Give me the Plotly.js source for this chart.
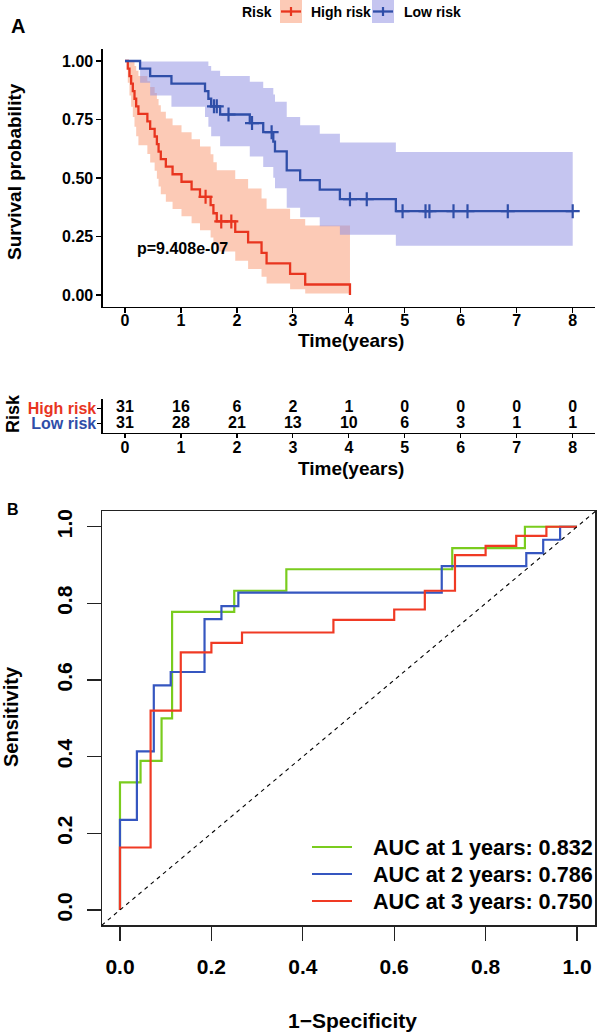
<!DOCTYPE html>
<html><head><meta charset="utf-8">
<script src="https://cdn.plot.ly/plotly-3.0.1.min.js"></script>
<style>html,body{margin:0;padding:0;background:#fff;}#chart{width:597px;height:1033px;}</style>
</head><body><div id="chart"></div>
<script>
// ---------------- DATA ----------------
const groupNames = ['High risk', 'Low risk'];
const groupSize = [31, 31];
const highEventTimes = [0.05,0.08,0.11,0.14,0.17,0.20,0.24,0.40,0.45,0.53,0.57,0.60,0.64,0.73,0.85,
  1.01,1.19,1.34,1.53,1.58,1.64,1.97,2.20,2.44,2.53,2.95,3.22,4.02];
const highCensorTimes = [1.44,1.72,1.90];
const lowEventTimes = [0.27,0.45,0.83,1.43,1.49,1.54,1.70,2.23,2.47,2.65,2.68,2.89,2.89,3.13,3.48,3.84,4.84];
const lowCensorTimes = [1.59,1.64,1.85,2.27,2.62,4.02,4.32,4.96,5.37,5.44,5.87,6.12,6.84,8.00];
const pValueText = 'p=9.408e-07';
const timeTicks = [0,1,2,3,4,5,6,7,8];
const survTicks = [0,0.25,0.5,0.75,1];
const survTickText = ['0.00','0.25','0.50','0.75','1.00'];
const riskTimes = [0,1,2,3,4,5,6,7,8];
const highAtRisk = [31,16,6,2,1,0,0,0,0];
const lowAtRisk = [31,28,21,13,10,6,3,1,1];

const rocTicks = [0,0.2,0.4,0.6,0.8,1.0];
const rocTickText = ['0.0','0.2','0.4','0.6','0.8','1.0'];
const roc1FPR = [0,0,0.045,0.091,0.114,0.25,0.364,0.727,0.886,1];
const roc1TPR = [0,0.333,0.389,0.5,0.778,0.833,0.889,0.944,1,1];
const roc2FPR = [0,0,0.037,0.074,0.111,0.185,0.222,0.259,0.704,0.889,0.926,0.963,1];
const roc2TPR = [0,0.235,0.414,0.586,0.621,0.759,0.793,0.828,0.897,0.931,0.966,1,1];
const roc3FPR = [0,0,0.067,0.133,0.2,0.267,0.467,0.6,0.667,0.733,0.8,0.867,0.933,1];
const roc3TPR = [0,0.163,0.52,0.672,0.697,0.724,0.757,0.784,0.833,0.926,0.95,0.976,1,1];
const aucLabels = ['AUC at 1 years: 0.832','AUC at 2 years: 0.786','AUC at 3 years: 0.750'];

// ---------------- STYLE ----------------
const W = 597, H = 1033;
const FONT = 'Liberation Sans, Arial, Helvetica, sans-serif';
const RED = '#E8351F', BLUE = '#2F4EA8';
const RED_FILL = 'rgba(250,150,110,0.5)', BLUE_FILL = 'rgba(140,140,225,0.5)';
const ROC_COL = ['#7ACC1E', '#3556C0', '#F03A24'];
const px = x => x / W, py = y => 1 - y / H;

// Kaplan-Meier with log-type confidence interval (survfit default)
function km(events, censors, n) {
  const all = events.map(t => ({t, e: 1})).concat(censors.map(t => ({t, e: 0})))
    .sort((a, b) => a.t - b.t || b.e - a.e);
  let risk = n, S = 1, v = 0, i = 0;
  const times = [0], surv = [1], up = [1], lo = [1], cens = [];
  while (i < all.length) {
    const t = all[i].t; let d = 0, c = 0;
    while (i < all.length && all[i].t === t) { if (all[i].e) d++; else c++; i++; }
    if (d > 0) {
      S *= (risk - d) / risk;
      if (risk - d > 0) v += d / (risk * (risk - d));
      const se = Math.sqrt(v);
      times.push(t); surv.push(S);
      if (S > 0) { up.push(Math.min(1, S * Math.exp(1.96 * se))); lo.push(S * Math.exp(-1.96 * se)); }
      else { up.push(null); lo.push(null); }
    }
    for (let k = 0; k < c; k++) cens.push({t, S});
    risk -= d + c;
  }
  return {times, surv, up, lo, cens, tEnd: all[all.length - 1].t};
}
function stepLine(f) {
  const xs = [], ys = [];
  for (let i = 0; i < f.times.length; i++) {
    xs.push(f.times[i]); ys.push(f.surv[i]);
    const next = i + 1 < f.times.length ? f.times[i + 1] : f.tEnd;
    if (next > f.times[i]) { xs.push(next); ys.push(f.surv[i]); }
  }
  return {xs, ys};
}
function ribbon(f) {
  const ux = [], uy = [], lx = [], ly = [];
  for (let i = 0; i < f.times.length; i++) {
    if (f.up[i] === null) break;
    const next = i + 1 < f.times.length ? f.times[i + 1] : f.tEnd;
    ux.push(f.times[i], next); uy.push(f.up[i], f.up[i]);
    lx.push(f.times[i], next); ly.push(f.lo[i], f.lo[i]);
  }
  return {x: ux.concat(lx.slice().reverse()), y: uy.concat(ly.slice().reverse())};
}

const fits = [km(highEventTimes, highCensorTimes, groupSize[0]), km(lowEventTimes, lowCensorTimes, groupSize[1])];
const cols = [RED, BLUE], fills = [RED_FILL, BLUE_FILL];
const traces = [];
fits.forEach((f, g) => {
  const r = ribbon(f);
  traces.push({x: r.x, y: r.y, xaxis: 'x', yaxis: 'y', mode: 'lines', fill: 'toself',
    fillcolor: fills[g], line: {width: 0, color: 'rgba(0,0,0,0)'}, hoverinfo: 'skip', showlegend: false});
});
fits.forEach((f, g) => {
  const s = stepLine(f);
  traces.push({x: s.xs, y: s.ys, xaxis: 'x', yaxis: 'y', mode: 'lines',
    line: {color: cols[g], width: 2.3}, showlegend: false});
  traces.push({x: f.cens.map(c => c.t), y: f.cens.map(c => c.S), xaxis: 'x', yaxis: 'y', mode: 'markers',
    marker: {symbol: 'cross-thin', size: 10, color: cols[g], line: {color: cols[g], width: 2.2}}, showlegend: false});
});
// risk table
[[highAtRisk, 1], [lowAtRisk, 0]].forEach(([vals, row]) => {
  traces.push({x: riskTimes, y: riskTimes.map(() => row), text: vals.map(String), mode: 'text',
    xaxis: 'x2', yaxis: 'y2', textposition: 'middle center',
    textfont: {family: FONT, size: 16, weight: 'bold', color: '#000'}, showlegend: false});
});
// ROC
[[roc1FPR, roc1TPR], [roc2FPR, roc2TPR], [roc3FPR, roc3TPR]].forEach(([fx, ty], k) => {
  traces.push({x: fx, y: ty, xaxis: 'x3', yaxis: 'y3', mode: 'lines',
    line: {color: ROC_COL[k], width: 2.2, shape: 'hv'}, showlegend: false});
});

const tickFont = s => ({family: FONT, size: s, weight: 'bold', color: '#000'});
const baseAx = {showgrid: false, zeroline: false, showline: true, linecolor: '#000', linewidth: 1.2,
  ticks: 'outside', tickcolor: '#000', tickwidth: 1.2, fixedrange: true};

const layout = {
  width: W, height: H, margin: {l: 0, r: 0, t: 0, b: 0}, paper_bgcolor: '#fff', plot_bgcolor: 'rgba(0,0,0,0)',
  showlegend: false, font: {family: FONT, color: '#000'},
  xaxis: Object.assign({}, baseAx, {domain: [px(102.6), px(595.1)], range: [-0.4, 8.4], anchor: 'y',
    tickvals: timeTicks, ticklen: 5, tickfont: tickFont(16), ticklabelstandoff: -6}),
  yaxis: Object.assign({}, baseAx, {domain: [py(306.7), py(49.3)], range: [-0.05, 1.05], anchor: 'x',
    tickvals: survTicks, ticktext: survTickText, ticklen: 5, tickfont: tickFont(16)}),
  xaxis2: Object.assign({}, baseAx, {domain: [px(102.6), px(595.1)], range: [-0.4, 8.4], anchor: 'y2',
    tickvals: riskTimes, ticklen: 4, tickfont: tickFont(16), ticklabelstandoff: -4}),
  yaxis2: Object.assign({}, baseAx, {domain: [py(433), py(399)], range: [-0.6, 1.6], anchor: 'x2',
    tickvals: [1, 0], ticklen: 4,
    ticktext: ['<span style="color:' + RED + '">' + groupNames[0] + '</span>',
               '<span style="color:' + BLUE + '">' + groupNames[1] + '</span>'],
    tickfont: tickFont(16), ticklabelstandoff: -2}),
  xaxis3: Object.assign({}, baseAx, {domain: [px(101.7), px(595.3)], range: [-0.04, 1.04], anchor: 'y3',
    mirror: true, linecolor: '#222', tickcolor: '#222', tickvals: rocTicks, ticktext: rocTickText,
    ticklen: 14, tickfont: tickFont(21), ticklabelstandoff: 8}),
  yaxis3: Object.assign({}, baseAx, {domain: [py(925.3), py(511.4)], range: [-0.04, 1.04], anchor: 'x3',
    mirror: true, linecolor: '#222', tickcolor: '#222', tickvals: rocTicks, ticktext: rocTickText,
    ticklen: 14, tickangle: -90, tickfont: tickFont(21), ticklabelstandoff: 6}),
  shapes: [],
  annotations: []
};
const ann = (text, x, y, size, opt) => layout.annotations.push(Object.assign({
  text, x: px(x), y: py(y), xref: 'paper', yref: 'paper', showarrow: false,
  xanchor: 'center', yanchor: 'middle', font: {family: FONT, size, weight: 'bold', color: '#000'}}, opt || {}));

// panel letters and titles
ann('A', 18, 26, 20);
ann('B', 13, 509, 16);
ann('Survival probability', 15, 172, 19, {textangle: -90});
ann('Time(years)', 351, 341, 19);
ann('Risk', 13, 414, 18, {textangle: -90});
ann('Time(years)', 351, 468, 19);
ann('Sensitivity', 11, 717, 20, {textangle: -90});
ann('1\u2212Specificity', 352, 1020, 21);
layout.annotations.push({text: pValueText, x: 0.17, y: 0.2, xref: 'x', yref: 'y', showarrow: false,
  xanchor: 'left', yanchor: 'middle', font: {family: FONT, size: 16, weight: 'bold', color: '#000'}});

// KM legend (top)
ann('Risk', 274, 12, 14, {xanchor: 'right'});
const keyX = [280, 372], keyTxt = [309, 402];
[0, 1].forEach(g => {
  const x0 = keyX[g];
  layout.shapes.push({type: 'rect', xref: 'paper', yref: 'paper', x0: px(x0), x1: px(x0 + 22), y0: py(23), y1: py(0),
    fillcolor: fills[g], line: {width: 0}});
  layout.shapes.push({type: 'line', xref: 'paper', yref: 'paper', x0: px(x0 + 1), x1: px(x0 + 21), y0: py(11.5), y1: py(11.5),
    line: {color: cols[g], width: 2.3}});
  layout.shapes.push({type: 'line', xref: 'paper', yref: 'paper', x0: px(x0 + 11), x1: px(x0 + 11), y0: py(7), y1: py(16),
    line: {color: cols[g], width: 2.2}});
  ann(groupNames[g], keyTxt[g], 12, 14, {xanchor: 'left'});
});

// ROC diagonal
layout.shapes.push({type: 'line', xref: 'x3 domain', yref: 'y3 domain', x0: 0, y0: 0, x1: 1, y1: 1,
  line: {color: '#000', width: 1.1, dash: '4px,4px'}});
// ROC legend
const legY = [847, 874, 901];
aucLabels.forEach((t, k) => {
  layout.shapes.push({type: 'line', xref: 'paper', yref: 'paper', x0: px(312), x1: px(352), y0: py(legY[k]), y1: py(legY[k]),
    line: {color: ROC_COL[k], width: 2.2}});
  ann(t, 371, legY[k], 21.6, {xanchor: 'left'});
});

Plotly.newPlot('chart', traces, layout, {displayModeBar: false, staticPlot: true});
</script></body></html>
